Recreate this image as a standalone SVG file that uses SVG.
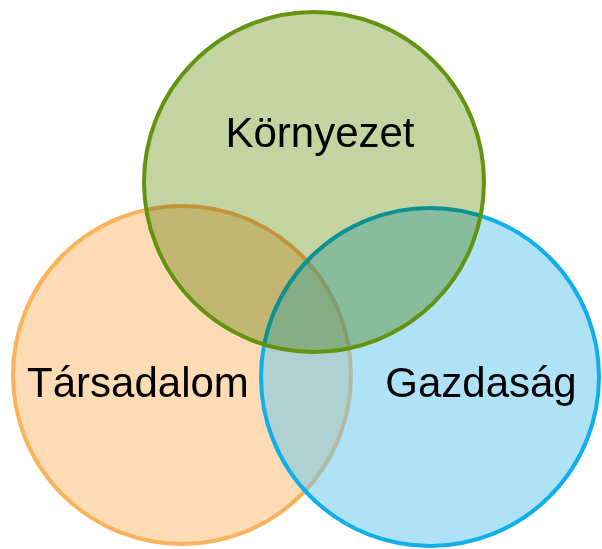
<svg xmlns="http://www.w3.org/2000/svg" width="602" height="549" viewBox="0 0 602 549">
<style>
.lbl{font-family:"Liberation Sans",Arial,sans-serif;font-size:42px;fill:#000;text-anchor:middle}
.mul{mix-blend-mode:multiply}
</style>
<rect width="602" height="549" fill="#fff"/>
<g id="tarsadalom">
<circle cx="182" cy="375" r="169" fill="#fddcb5" stroke="#fbb25a" stroke-width="4"/>
</g>
<g id="gazdasag">
<circle cx="430" cy="377" r="169" fill="#61c5ef" fill-opacity="0.5" stroke="#10aeea" stroke-width="4"/>
</g>
<g id="kornyezet">
<circle class="mul" cx="314" cy="182" r="170" fill="#c4d4a1"/>
<circle cx="314" cy="182" r="170" fill="none" stroke="#629410" stroke-width="4"/>
</g>
<g id="connectors"></g>
<text class="lbl" x="320" y="147">Környezet</text>
<text class="lbl" x="138" y="397">Társadalom</text>
<text class="lbl" x="481" y="397">Gazdaság</text>
</svg>
